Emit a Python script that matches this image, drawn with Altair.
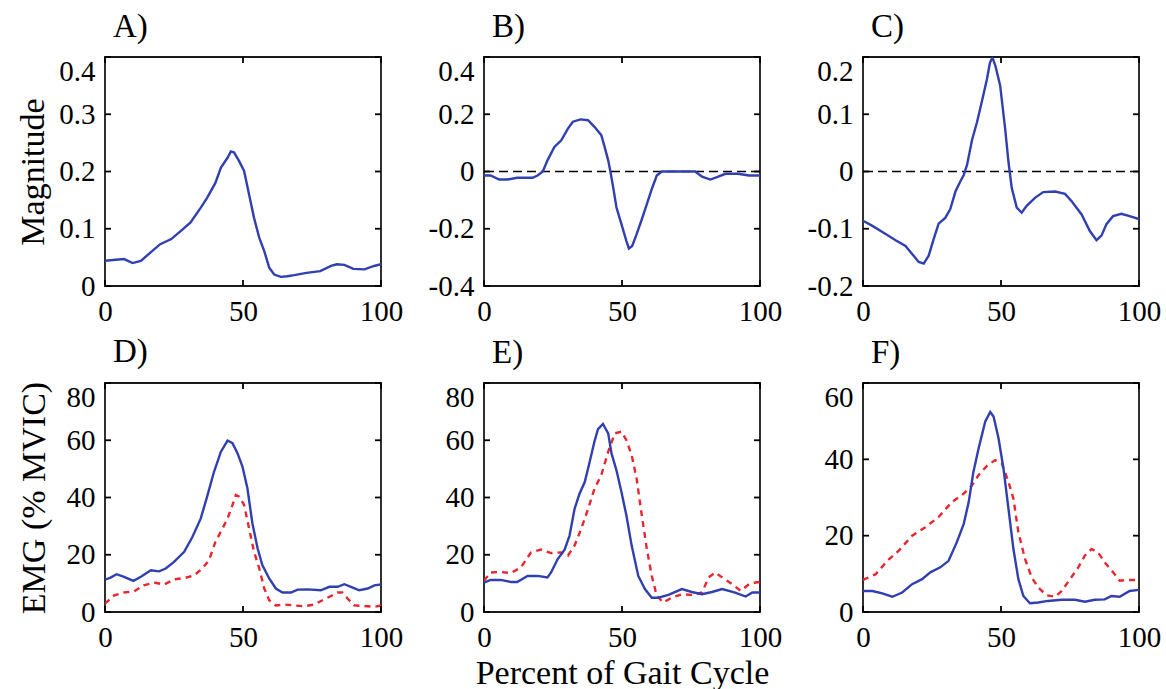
import altair as alt
import pandas as pd

FONT = "Liberation Serif"
BLUE = "#3040b0"
RED = "#e8262f"

# ---------------- data ----------------
A_x = [0, 6.9, 10, 13, 17.8, 20, 24, 27.4, 31, 34.7, 37, 40, 42, 44.4, 45.6, 46.8, 48.6, 50.4, 52.2, 54,
       55.9, 57.7, 59.5, 61.3, 63.7, 66, 68.6, 73, 78, 81.9, 84, 86.7, 90, 94, 97.5, 100]
A_y = [0.044, 0.047, 0.040, 0.044, 0.064, 0.073, 0.082, 0.096, 0.111, 0.137, 0.154, 0.180, 0.207, 0.224,
       0.235, 0.233, 0.218, 0.201, 0.160, 0.119, 0.084, 0.061, 0.032, 0.020, 0.016, 0.017, 0.019, 0.023,
       0.026, 0.035, 0.038, 0.037, 0.030, 0.029, 0.035, 0.038]

B_x = [0, 2.4, 5.5, 8.5, 12, 17.6, 19.4, 21.3, 23, 25.5, 28, 30.4, 32.2, 35, 37.7, 40, 42.5, 43.7, 45,
       45.8, 46.8, 48, 49.8, 51.6, 52.5, 53.7, 55.3, 57, 59, 60.8, 62.6, 64.4, 68, 73, 76.5, 79, 82, 84.4,
       87.5, 92, 96, 100]
B_y = [-0.014, -0.014, -0.028, -0.028, -0.022, -0.022, -0.014, 0, 0.039, 0.086, 0.109, 0.150, 0.174,
       0.182, 0.179, 0.156, 0.127, 0.086, 0.039, 0, -0.055, -0.126, -0.184, -0.243, -0.269, -0.26, -0.219,
       -0.172, -0.114, -0.061, -0.014, 0, 0, 0, 0, -0.018, -0.028, -0.02, -0.008, -0.008, -0.014, -0.014]

C_x = [0, 3.4, 8.2, 11.8, 15.4, 17.8, 20.2, 22, 23.8, 25.6, 27.4, 29.8, 31.6, 33.5, 35.3, 36.5, 37.7,
       39.5, 41.3, 43, 44.9, 46, 46.9, 48, 49.7, 51.5, 52.7, 53.9, 55.7, 57.5, 59.3, 62.3, 65.3, 69.6,
       73.2, 75.6, 79.2, 82.2, 84.6, 86.4, 88.2, 90.6, 93.6, 96.6, 100]
C_y = [-0.086, -0.095, -0.109, -0.120, -0.130, -0.144, -0.158, -0.161, -0.147, -0.118, -0.091, -0.081,
       -0.066, -0.035, -0.017, -0.006, 0.0115, 0.055, 0.086, 0.121, 0.161, 0.19, 0.199, 0.184, 0.150,
       0.075, 0.017, -0.029, -0.063, -0.072, -0.060, -0.046, -0.036, -0.035, -0.039, -0.052, -0.075,
       -0.104, -0.120, -0.112, -0.092, -0.078, -0.074, -0.078, -0.083]

D_blue_x = [0, 2, 4.2, 6.9, 10.3, 13, 16.6, 19.6, 22, 25, 28.7, 31.7, 34.7, 37, 39.5, 42, 44.4, 46.2, 48,
            49.8, 51.6, 53.4, 55.3, 57, 59.5, 61.9, 64.3, 67.4, 69.8, 73.4, 78.2, 81.3, 84.3, 86.7, 89.1,
            92.1, 95.2, 97.6, 100]
D_blue_y = [11.3, 12.0, 13.2, 12.3, 10.9, 12.3, 14.6, 14.2, 15.2, 17.5, 21.0, 26.3, 32.7, 40.3, 49, 56,
            59.9, 59, 55.5, 50.8, 43.2, 31, 22.2, 16.4, 11.7, 8.2, 6.8, 6.8, 7.8, 7.9, 7.6, 8.8, 8.8, 9.7,
            8.8, 7.6, 8.2, 9.3, 9.6]
D_red_x = [0, 3.3, 6.9, 10.5, 14, 17.8, 21.4, 25, 29, 32.3, 35.3, 37.7, 40, 42.6, 44.4, 46.2, 47.4, 48.6,
           50.4, 52.2, 54, 55.9, 57.7, 59.5, 61.9, 65, 68.6, 72.2, 75.8, 78.8, 81.9, 84.3, 86, 87.9, 90.3,
           94, 97.6, 100]
D_red_y = [2.9, 5.8, 6.8, 7.2, 9.3, 10.3, 9.6, 11.4, 11.9, 12.8, 15.2, 18.1, 24.5, 29.2, 32.7, 37.4, 40.9,
           40.3, 37.4, 29.2, 21, 15.2, 8.2, 4.1, 2.3, 2.6, 2.3, 2, 2.6, 4.1, 5.6, 6.8, 6.8, 4.7, 2.3, 2.1,
           1.8, 2.3]

E_blue_x = [0, 2.4, 6, 9.7, 12, 15.8, 19.4, 23, 24.3, 26.7, 29.2, 31, 32.8, 34.6, 36.5, 38.3, 40, 41.3,
            43.1, 45, 46.2, 48, 49.8, 51.6, 53.5, 55.9, 58.3, 60.8, 63.2, 66.8, 71.7, 75.3, 79, 82.6, 86.3,
            91, 94.8, 97.2, 100]
E_blue_y = [10.3, 11.2, 11.2, 10.5, 10.5, 12.6, 12.6, 12.1, 13.8, 18.5, 21.8, 26.7, 36, 41.3, 45.4, 52.5,
            59.5, 63.9, 65.7, 62.4, 55.4, 49.5, 41.9, 33.7, 23.2, 12.6, 8.0, 5.0, 5.0, 6.0, 8.0, 7.0, 6.2,
            7.0, 8.0, 6.8, 5.4, 6.8, 6.8]
E_red_x = [0, 2.4, 6, 9.7, 13.4, 17, 20.7, 24.3, 27.9, 30.4, 32.8, 35.2, 37.7, 40, 42.5, 45, 47.4, 49.8,
           51.6, 53.5, 55.3, 57, 59, 60.8, 62.6, 65, 68, 71.7, 75.3, 79, 81.4, 83.8, 86.3, 89.9, 93, 96,
           98.4, 100]
E_red_y = [10.9, 13.8, 14.0, 13.6, 15.6, 20.8, 21.8, 20.6, 20.8, 19.7, 23.2, 29, 36, 43, 47.8, 56, 62.4,
           63, 60, 54.8, 46.6, 34.9, 22, 12.6, 5.6, 3.3, 5, 6.2, 6, 6.8, 12.1, 13.8, 12.1, 9.7, 7.4, 9.7,
           10.3, 10.5]

F_blue_x = [0, 3.4, 7, 10.6, 14.2, 17.8, 21.4, 24.4, 28, 31, 34, 36.5, 38.3, 40, 41.9, 44.3, 46.1, 47.3,
            49.1, 50.9, 52.7, 54.5, 56.3, 58.1, 60.5, 63.5, 67, 72, 76.8, 80.4, 84, 87.6, 90, 93, 96.6, 100]
F_blue_y = [5.5, 5.5, 4.9, 4.0, 5.1, 7.3, 8.6, 10.4, 11.7, 13.4, 18.3, 23.1, 28.8, 36.7, 42.9, 49.9, 52.4,
            51.2, 45.5, 37.6, 27.1, 16.5, 8.6, 4.2, 2.3, 2.5, 2.9, 3.2, 3.2, 2.7, 3.2, 3.3, 4.2, 4.0, 5.5,
            5.8]
F_red_x = [0, 4.6, 8.8, 13, 17.8, 22.6, 27.4, 32.2, 36.5, 39.5, 41.9, 44.9, 47.9, 50.3, 52.7, 54.5, 56.3,
           58.7, 61.1, 63.5, 66.5, 69.6, 72, 75, 78, 80.4, 82.8, 85.2, 87.6, 90.6, 93, 96, 100]
F_red_y = [8.4, 9.9, 13.4, 16.1, 20.0, 22.2, 24.9, 28.8, 31, 33.2, 35.9, 38.3, 39.8, 38.9, 34.1, 29.7,
           20.9, 13.9, 9.1, 6.4, 4.4, 4.0, 5.5, 8.6, 11.7, 14.8, 16.5, 15.6, 13.0, 10.4, 8.2, 8.4, 8.4]

X_TICKS = [0, 50, 100]
A_ticks = [0, 0.1, 0.2, 0.3, 0.4]
B_ticks = [-0.4, -0.2, 0, 0.2, 0.4]
C_ticks = [-0.2, -0.1, 0, 0.1, 0.2]
D_ticks = [0, 20, 40, 60, 80]
E_ticks = [0, 20, 40, 60, 80]
F_ticks = [0, 20, 40, 60]

W, H = 276, 229
TICK_LEN = 6


def panel(label, bx, by, yticks, rx=None, ry=None, ytitle=None, xtitle=None, zero=False):
    ymin, ymax = yticks[0], yticks[-1]
    y_axis_kw = dict(
        values=yticks,
        labelPadding=10,
        labelFlush=False,
        labelOverlap=False,
        labelExpr="(datum.value < 0 ? '-' : '') + format(abs(datum.value), '~g')",
        labelBaseline=alt.condition(f"datum.value >= {ymax} - 1e-9", alt.value("top"), alt.value("middle")),
    )
    if ytitle:
        y_axis_kw.update(minExtent=46, titlePadding=8)
    x_axis_kw = dict(values=X_TICKS, labelPadding=11, labelFlush=False, labelOverlap=False)
    if xtitle:
        x_axis_kw.update(titlePadding=4)

    xenc = alt.X("x:Q", scale=alt.Scale(domain=[0, 100], nice=False, zero=False),
                 axis=alt.Axis(**x_axis_kw), title=xtitle)
    yenc = alt.Y("y:Q", scale=alt.Scale(domain=[ymin, ymax], nice=False, zero=False),
                 axis=alt.Axis(**y_axis_kw), title=ytitle)

    layers = []
    if zero:
        layers.append(
            alt.Chart(pd.DataFrame({"y": [0]})).mark_rule(
                color="black", strokeWidth=1.6, strokeDash=[9, 5]
            ).encode(y=yenc)
        )
    if rx is not None:
        layers.append(
            alt.Chart(pd.DataFrame({"x": rx, "y": ry})).mark_line(
                color=RED, strokeWidth=2.4, strokeDash=[6, 5], clip=True
            ).encode(x=xenc, y=yenc, order="x:Q")
        )
    layers.append(
        alt.Chart(pd.DataFrame({"x": bx, "y": by})).mark_line(
            color=BLUE, strokeWidth=2.4, clip=True
        ).encode(x=xenc, y=yenc, order="x:Q")
    )
    # inward tick marks on all four sides (MATLAB box style), positioned by the scales
    ytick_df = pd.DataFrame({"y": yticks})
    tick_style = dict(color="black", strokeWidth=1.8)
    layers.append(
        alt.Chart(ytick_df).mark_rule(**tick_style).encode(
            y=yenc, x=alt.value(0), x2=alt.value(TICK_LEN))
    )
    layers.append(
        alt.Chart(ytick_df).mark_rule(**tick_style).encode(
            y=yenc, x=alt.value(W - TICK_LEN), x2=alt.value(W))
    )
    xtick_df = pd.DataFrame({"x": X_TICKS})
    layers.append(
        alt.Chart(xtick_df).mark_rule(**tick_style).encode(
            x=xenc, y=alt.value(0), y2=alt.value(TICK_LEN))
    )
    layers.append(
        alt.Chart(xtick_df).mark_rule(**tick_style).encode(
            x=xenc, y=alt.value(H - TICK_LEN), y2=alt.value(H))
    )
    return alt.layer(*layers).properties(
        width=W, height=H,
        title=alt.TitleParams(text=label, anchor="start", dx=8, offset=12, frame="group"),
    )


pA = panel("A)", A_x, A_y, A_ticks, ytitle="Magnitude")
pB = panel("B)", B_x, B_y, B_ticks, zero=True)
pC = panel("C)", C_x, C_y, C_ticks, zero=True)
pD = panel("D)", D_blue_x, D_blue_y, D_ticks, D_red_x, D_red_y, ytitle="EMG (% MVIC)")
pE = panel("E)", E_blue_x, E_blue_y, E_ticks, E_red_x, E_red_y, xtitle="Percent of Gait Cycle")
pF = panel("F)", F_blue_x, F_blue_y, F_ticks, F_red_x, F_red_y)

chart = alt.concat(
    pA, pB, pC, pD, pE, pF, columns=3, spacing={"row": 97, "column": 103}, bounds="flush"
).properties(
    padding={"left": 15, "top": 10, "right": 0, "bottom": 0},
    background="white",
).configure_view(
    stroke="#1a1a1a", strokeWidth=1.8
).configure_axis(
    grid=False, domain=False, ticks=False,
    labelFont=FONT, labelFontSize=29, labelColor="black",
    titleFont=FONT, titleFontSize=34, titleFontWeight="normal", titleColor="black",
).configure_title(
    font=FONT, fontSize=33, fontWeight="normal", color="black",
)

chart.save("out.html", embed_options={"renderer": "svg", "actions": False})
